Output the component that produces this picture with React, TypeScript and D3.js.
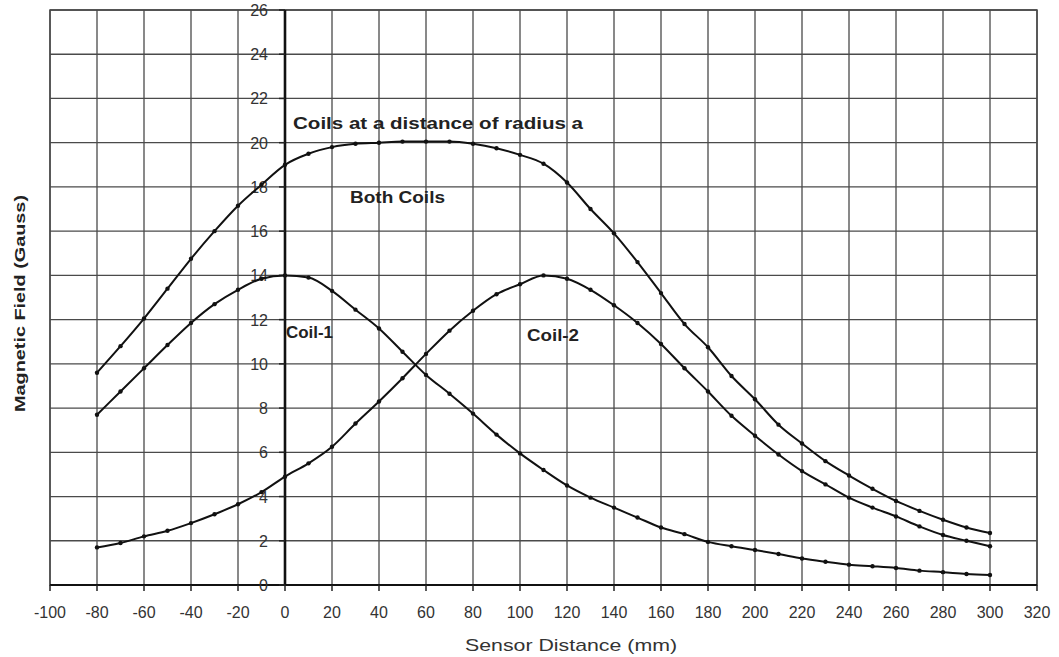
import React from 'react';
import * as d3 from 'd3';

// sensor distance (mm), sampled every 10 mm
const distances = [
  -80, -70, -60, -50, -40, -30, -20, -10, 0, 10, 20, 30, 40, 50, 60, 70, 80, 90, 100,
  110, 120, 130, 140, 150, 160, 170, 180, 190, 200, 210, 220, 230, 240, 250, 260, 270,
  280, 290, 300,
];

// field readings (Gauss)
const coil1 = [
  7.7, 8.75, 9.8, 10.85, 11.85, 12.7, 13.35, 13.85, 14.0, 13.9, 13.3, 12.45, 11.6,
  10.55, 9.5, 8.65, 7.75, 6.8, 5.95, 5.2, 4.5, 3.95, 3.5, 3.05, 2.6, 2.3, 1.95, 1.75,
  1.58, 1.4, 1.2, 1.05, 0.92, 0.85, 0.77, 0.65, 0.58, 0.5, 0.45,
];
const coil2 = [
  1.7, 1.9, 2.2, 2.45, 2.8, 3.2, 3.65, 4.2, 4.9, 5.5, 6.25, 7.3, 8.3, 9.35, 10.45,
  11.5, 12.4, 13.15, 13.6, 14.0, 13.85, 13.35, 12.65, 11.85, 10.9, 9.8, 8.75, 7.65,
  6.75, 5.9, 5.15, 4.55, 3.95, 3.5, 3.1, 2.65, 2.26, 2.0, 1.75,
];
const bothCoils = [
  9.6, 10.8, 12.05, 13.4, 14.75, 16.0, 17.15, 18.1, 19.0, 19.5, 19.8, 19.95, 20.0,
  20.05, 20.05, 20.05, 19.95, 19.75, 19.45, 19.05, 18.2, 17.0, 15.9, 14.6, 13.2, 11.8,
  10.75, 9.45, 8.4, 7.25, 6.4, 5.6, 4.95, 4.35, 3.8, 3.35, 2.95, 2.6, 2.35,
];

const xTicks = [-100, -80, -60, -40, -20, 0, 20, 40, 60, 80, 100, 120, 140, 160, 180, 200, 220, 240, 260, 280, 300, 320];
const yTicks = [0, 2, 4, 6, 8, 10, 12, 14, 16, 18, 20, 22, 24, 26];

const W = 1059;
const H = 657;

const App: React.FC = () => {
  const x = d3.scaleLinear().domain([-100, 320]).range([50, 1037]);
  const y = d3.scaleLinear().domain([0, 26]).range([585, 10]);

  const series = [coil1, coil2, bothCoils];
  const line = d3
    .line<number>()
    .x((_, i) => x(distances[i]))
    .y((d) => y(d))
    .curve(d3.curveMonotoneX);

  const gridColor = '#4a4a4a';
  const font = 'Arial, "Liberation Sans", Helvetica, sans-serif';

  return (
    <svg
      width={W}
      height={H}
      style={{ position: 'absolute', left: 0, top: 0, background: '#fff' }}
      fontFamily={font}
    >
      <rect x={0} y={0} width={W} height={H} fill="#fff" />

      {/* grid */}
      {xTicks.map((t) => (
        <line key={'gx' + t} x1={x(t)} x2={x(t)} y1={y(26)} y2={y(0)} stroke={gridColor} strokeWidth={1.3} />
      ))}
      {yTicks.map((t) => (
        <line key={'gy' + t} x1={x(-100)} x2={x(320)} y1={y(t)} y2={y(t)} stroke={gridColor} strokeWidth={1.3} />
      ))}
      <rect
        x={x(-100)}
        y={y(26)}
        width={x(320) - x(-100)}
        height={y(0) - y(26)}
        fill="none"
        stroke={gridColor}
        strokeWidth={1.5}
      />

      {/* axes */}
      <line x1={x(-100)} x2={x(320)} y1={y(0)} y2={y(0)} stroke="#111" strokeWidth={2.2} />
      <line x1={x(0)} x2={x(0)} y1={y(26)} y2={y(0)} stroke="#111" strokeWidth={2.6} />
      {xTicks.map((t) => (
        <line key={'tx' + t} x1={x(t)} x2={x(t)} y1={y(0)} y2={y(0) + 6} stroke="#222" strokeWidth={1.5} />
      ))}
      {yTicks.map((t) => (
        <line key={'ty' + t} x1={x(0) - 6} x2={x(0)} y1={y(t)} y2={y(t)} stroke="#222" strokeWidth={1.5} />
      ))}

      {/* tick labels */}
      {xTicks.map((t) => (
        <text key={'lx' + t} x={x(t)} y={618} textAnchor="middle" fontSize={16} fill="#333">
          {t}
        </text>
      ))}
      {yTicks.map((t) => (
        <text key={'ly' + t} x={268} y={y(t) + 6} textAnchor="end" fontSize={16} fill="#333">
          {t}
        </text>
      ))}

      {/* curves */}
      {series.map((s, k) => (
        <g key={'s' + k}>
          <path d={line(s) || ''} fill="none" stroke="#111" strokeWidth={2} />
          {s.map((v, i) => (
            <circle key={i} cx={x(distances[i])} cy={y(v)} r={2.2} fill="#111" />
          ))}
        </g>
      ))}

      {/* annotations */}
      <text x={293} y={129} fontSize={16} fontWeight="bold" fill="#222" textLength={290} lengthAdjust="spacingAndGlyphs">
        Coils at a distance of radius a
      </text>
      <text x={350} y={203} fontSize={16} fontWeight="bold" fill="#222" textLength={95} lengthAdjust="spacingAndGlyphs">
        Both Coils
      </text>
      <text x={286} y={338} fontSize={16} fontWeight="bold" fill="#222" textLength={47} lengthAdjust="spacingAndGlyphs">
        Coil-1
      </text>
      <text x={527} y={341} fontSize={16} fontWeight="bold" fill="#222" textLength={52} lengthAdjust="spacingAndGlyphs">
        Coil-2
      </text>

      {/* axis titles */}
      <text x={465} y={651} fontSize={17} fill="#333" textLength={212} lengthAdjust="spacingAndGlyphs">
        Sensor Distance (mm)
      </text>
      <text
        transform="translate(25, 412) rotate(-90)"
        x={0}
        y={0}
        fontSize={15}
        fontWeight="bold"
        fill="#222"
        textLength={217}
        lengthAdjust="spacingAndGlyphs"
      >
        Magnetic Field (Gauss)
      </text>
    </svg>
  );
};

export default App;
